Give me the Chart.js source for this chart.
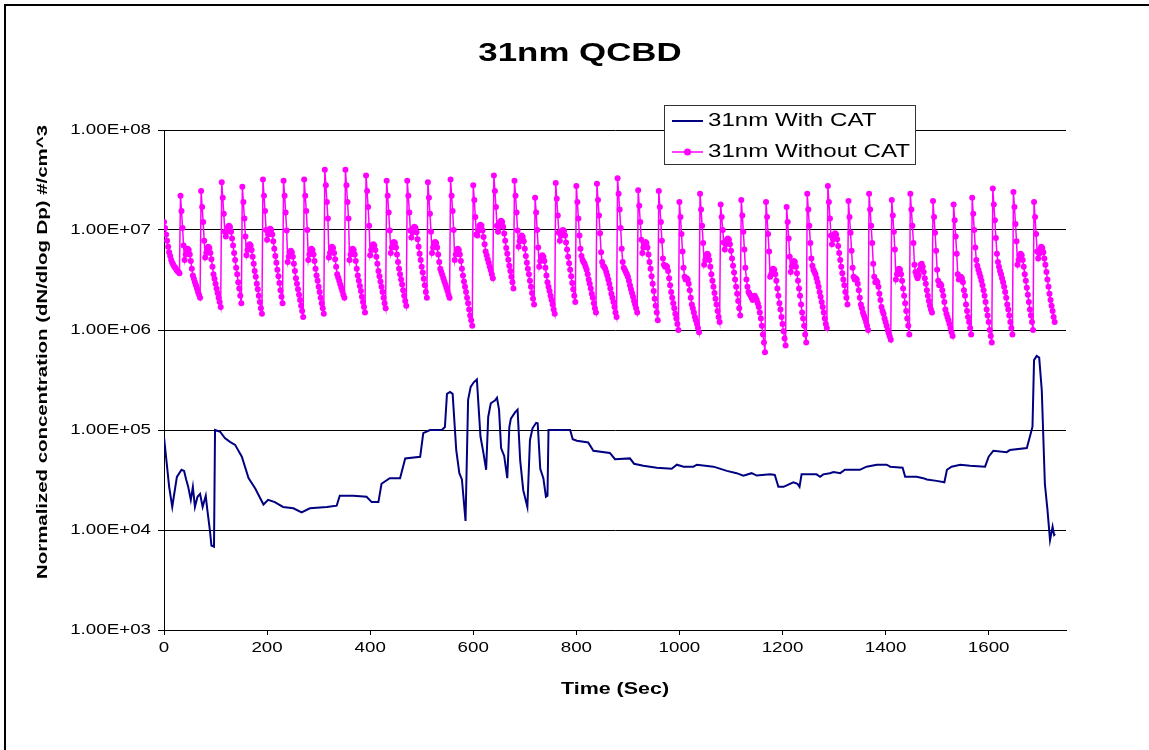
<!DOCTYPE html>
<html><head><meta charset="utf-8">
<script src="https://cdn.jsdelivr.net/npm/chart.js@4/dist/chart.umd.min.js"></script>
<style>html,body{margin:0;padding:0;background:#fff;}#wrap{width:1149px;height:750px;}</style>
</head><body><div id="wrap"><canvas id="c" width="1149" height="750"></canvas></div>
<script>
const chartTitle = '31nm QCBD';
const xTitle = 'Time (Sec)';
const yTitle = 'Normalized concentration (dN/dlog Dp) #/cm^3';
const seriesNames = ['31nm With CAT', '31nm Without CAT'];
const xTicks = [0, 200, 400, 600, 800, 1000, 1200, 1400, 1600];
const yTicks = [1e3, 1e4, 1e5, 1e6, 1e7, 1e8];
const yTickLabels = ['1.00E+03', '1.00E+04', '1.00E+05', '1.00E+06', '1.00E+07', '1.00E+08'];

// 31nm With CAT (time in s, concentration)
const withCatTime = [0,10,16,19,25,34,39,43,47,52,56,60,65,70,75,81,84,89,92,97,99,109,118,128,138,151,164,177,193,202,215,231,251,267,283,316,335,341,367,393,403,416,422,438,458,468,497,503,516,539,545,549,555,560,567,573,578,582,585,590,595,601,607,614,620,625,629,634,642,646,650,654,660,666,670,673,681,686,691,697,705,710,715,722,725,730,736,741,744,746,788,793,801,823,833,865,875,904,912,930,956,985,995,1008,1027,1034,1066,1092,1111,1124,1140,1150,1176,1185,1192,1202,1221,1229,1233,1237,1266,1273,1279,1292,1299,1312,1321,1350,1363,1383,1402,1409,1433,1438,1460,1473,1480,1499,1514,1519,1528,1545,1564,1593,1600,1609,1635,1641,1674,1680,1685,1688,1693,1698,1703,1709,1714,1719,1724,1727,1729];
const withCatValue = [8.5e4,2.7e4,1.7e4,2.15e4,3.4e4,4.0e4,3.9e4,3.2e4,2.7e4,2.0e4,2.7e4,1.7e4,2.15e4,2.3e4,1.7e4,2.2e4,1.6e4,1.0e4,7.0e3,6.8e3,1.0e5,9.6e4,8.3e4,7.6e4,7.1e4,5.4e4,3.3e4,2.6e4,1.8e4,2.0e4,1.9e4,1.7e4,1.65e4,1.5e4,1.65e4,1.7e4,1.75e4,2.2e4,2.2e4,2.15e4,1.9e4,1.9e4,2.9e4,3.3e4,3.3e4,5.2e4,5.4e4,9.3e4,1.0e5,1.0e5,1.07e5,2.3e5,2.4e5,2.3e5,6.3e4,3.7e4,3.2e4,1.85e4,1.23e4,2.0e5,2.7e5,3.0e5,3.2e5,8.6e4,5.8e4,4.0e4,1.35e5,1.85e5,1.97e5,2.1e5,1.6e5,6.6e4,5.5e4,3.3e4,1.07e5,1.3e5,1.5e5,1.6e5,5.0e4,2.5e4,1.7e4,7.9e4,1.04e5,1.18e5,1.17e5,4.1e4,3.3e4,2.15e4,2.2e4,1.0e5,1.0e5,8.1e4,7.8e4,7.5e4,6.2e4,5.9e4,5.1e4,5.2e4,4.6e4,4.4e4,4.2e4,4.1e4,4.5e4,4.3e4,4.3e4,4.5e4,4.3e4,3.9e4,3.7e4,3.5e4,3.7e4,3.5e4,3.6e4,3.55e4,2.7e4,2.7e4,3.0e4,2.9e4,2.7e4,3.6e4,3.6e4,3.4e4,3.6e4,3.7e4,3.8e4,3.7e4,4.0e4,4.0e4,4.3e4,4.5e4,4.5e4,4.3e4,4.2e4,3.4e4,3.4e4,3.3e4,3.2e4,3.1e4,3.0e4,4.0e4,4.3e4,4.5e4,4.4e4,4.3e4,5.4e4,6.2e4,6.0e4,6.3e4,6.6e4,8.6e4,1.08e5,5.0e5,5.5e5,5.3e5,2.5e5,2.9e4,1.6e4,7.9e3,1.08e4,8.9e3,9.1e3];

// 31nm Without CAT: one reading every 2 s starting at 0 s
const withoutCatStart = 0;
const withoutCatStep = 2;
const withoutCatValue = [
1.2e7,1.05e7,9.0e6,7.8e6,6.8e6,6.0e6,5.5e6,5.0e6,4.7e6,4.5e6,4.3e6,4.2e6,4.0e6,3.9e6,3.8e6,3.7e6,
2.2e7,1.55e7,1.05e7,7.0e6,5.0e6,5.7e6,6.3e6,6.5e6,6.3e6,5.7e6,4.9e6,4.1e6,3.5e6,3.25e6,3.0e6,2.8e6,2.6e6,2.4e6,2.25e6,2.1e6,
2.45e7,1.7e7,1.2e7,7.8e6,5.3e6,5.9e6,6.6e6,6.8e6,6.6e6,5.9e6,5.1e6,4.3e6,3.6e6,3.25e6,2.9e6,2.6e6,2.35e6,2.1e6,1.9e6,1.7e6,
3.0e7,2.1e7,1.45e7,9.6e6,8.6e6,9.6e6,1.07e7,1.1e7,1.07e7,9.6e6,8.2e6,7.0e6,5.9e6,5.0e6,4.2e6,3.6e6,3.0e6,2.6e6,2.2e6,1.85e6,
2.7e7,1.9e7,1.3e7,8.6e6,5.6e6,6.3e6,7.0e6,7.2e6,7.0e6,6.3e6,5.4e6,4.6e6,3.9e6,3.4e6,2.9e6,2.55e6,2.2e6,1.9e6,1.65e6,1.45e6,
3.2e7,2.2e7,1.55e7,1.0e7,8.0e6,9.0e6,1.0e7,1.03e7,1.0e7,9.0e6,7.7e6,6.5e6,5.5e6,4.7e6,4.0e6,3.45e6,2.95e6,2.5e6,2.15e6,1.85e6,
3.1e7,2.2e7,1.5e7,9.9e6,4.8e6,5.4e6,6.0e6,6.2e6,6.0e6,5.4e6,4.6e6,3.9e6,3.3e6,2.9e6,2.55e6,2.25e6,2.0e6,1.75e6,1.55e6,1.35e6,
3.2e7,2.2e7,1.55e7,1.0e7,5.0e6,5.7e6,6.3e6,6.5e6,6.3e6,5.7e6,4.9e6,4.1e6,3.5e6,3.1e6,2.7e6,2.4e6,2.1e6,1.85e6,1.65e6,1.45e6,
4.0e7,2.8e7,1.9e7,1.3e7,5.3e6,5.9e6,6.6e6,6.8e6,6.6e6,5.9e6,5.1e6,4.3e6,3.6e6,3.35e6,3.1e6,2.85e6,2.65e6,2.45e6,2.25e6,2.1e6,
4.0e7,2.8e7,1.9e7,1.3e7,5.0e6,5.7e6,6.3e6,6.5e6,6.3e6,5.7e6,4.9e6,4.1e6,3.5e6,3.1e6,2.75e6,2.45e6,2.15e6,1.9e6,1.7e6,1.5e6,
3.5e7,2.45e7,1.7e7,1.1e7,5.6e6,6.3e6,7.0e6,7.2e6,7.0e6,6.3e6,5.4e6,4.6e6,3.9e6,3.45e6,3.05e6,2.7e6,2.4e6,2.1e6,1.85e6,1.65e6,
3.1e7,2.2e7,1.5e7,9.9e6,5.9e6,6.7e6,7.4e6,7.6e6,7.4e6,6.7e6,5.7e6,4.8e6,4.1e6,3.6e6,3.2e6,2.85e6,2.5e6,2.2e6,1.95e6,1.75e6,
3.1e7,2.2e7,1.5e7,9.9e6,8.4e6,9.5e6,1.05e7,1.08e7,1.05e7,9.5e6,8.1e6,6.8e6,5.8e6,5.0e6,4.3e6,3.75e6,3.25e6,2.8e6,2.4e6,2.1e6,
3.0e7,2.1e7,1.45e7,9.6e6,5.9e6,6.7e6,7.4e6,7.6e6,7.4e6,6.7e6,5.7e6,4.8e6,4.1e6,3.8e6,3.55e6,3.3e6,3.05e6,2.85e6,2.65e6,2.45e6,2.25e6,2.1e6,
3.2e7,2.2e7,1.55e7,1.0e7,5.0e6,5.7e6,6.3e6,6.5e6,6.3e6,5.7e6,4.9e6,4.1e6,3.5e6,3.05e6,2.7e6,2.4e6,2.1e6,1.85e6,1.6e6,1.4e6,1.25e6,1.1e6,
2.8e7,2.0e7,1.35e7,9.0e6,8.8e6,9.9e6,1.1e7,1.13e7,1.1e7,9.9e6,8.5e6,7.2e6,6.1e6,5.6e6,5.1e6,4.7e6,4.3e6,3.95e6,3.6e6,3.3e6,
3.5e7,2.45e7,1.7e7,1.1e7,9.6e6,1.08e7,1.2e7,1.24e7,1.2e7,1.08e7,9.2e6,7.8e6,6.6e6,5.8e6,5.05e6,4.4e6,3.9e6,3.4e6,3.0e6,2.6e6,
3.1e7,2.2e7,1.5e7,9.9e6,6.8e6,7.7e6,8.5e6,8.8e6,8.5e6,7.7e6,6.5e6,5.5e6,4.7e6,4.1e6,3.6e6,3.1e6,2.7e6,2.35e6,2.05e6,1.8e6,
2.1e7,1.5e7,1.0e7,6.7e6,4.3e6,4.9e6,5.4e6,5.6e6,5.4e6,4.9e6,4.2e6,3.5e6,3.0e6,2.7e6,2.45e6,2.2e6,2.0e6,1.8e6,1.6e6,1.45e6,
2.95e7,2.05e7,1.4e7,9.4e6,7.8e6,8.8e6,9.8e6,1.0e7,9.8e6,8.8e6,7.5e6,6.4e6,5.4e6,4.65e6,4.0e6,3.45e6,2.95e6,2.55e6,2.2e6,1.9e6,
2.75e7,1.9e7,1.3e7,8.8e6,6.5e6,5.5e6,5.0e6,4.8e6,4.6e6,4.3e6,4.0e6,3.6e6,3.2e6,2.9e6,2.6e6,2.3e6,2.1e6,1.85e6,1.65e6,1.5e6,
2.9e7,2.0e7,1.4e7,9.3e6,6.0e6,4.8e6,4.4e6,4.3e6,4.1e6,3.8e6,3.5e6,3.2e6,2.9e6,2.6e6,2.3e6,2.1e6,1.9e6,1.7e6,1.5e6,1.35e6,
3.3e7,2.3e7,1.6e7,1.05e7,6.5e6,4.8e6,4.2e6,4.0e6,3.8e6,3.6e6,3.4e6,3.1e6,2.8e6,2.55e6,2.35e6,2.15e6,1.95e6,1.8e6,1.65e6,1.5e6,
2.5e7,1.75e7,1.2e7,8.0e6,5.9e6,6.7e6,7.4e6,7.6e6,7.4e6,6.7e6,5.7e6,4.8e6,4.1e6,3.45e6,2.9e6,2.45e6,2.05e6,1.75e6,1.5e6,1.25e6,
2.45e7,1.7e7,1.2e7,7.8e6,5.2e6,4.5e6,4.3e6,4.4e6,4.3e6,3.9e6,3.3e6,2.8e6,2.4e6,2.1e6,1.85e6,1.65e6,1.45e6,1.3e6,1.15e6,1.0e6,
1.9e7,1.35e7,9.1e6,6.1e6,4.2e6,3.4e6,3.2e6,3.3e6,3.2e6,2.9e6,2.5e6,2.1e6,1.8e6,1.65e6,1.5e6,1.35e6,1.25e6,1.15e6,1.05e6,9.5e5,
2.3e7,1.6e7,1.1e7,7.4e6,4.5e6,5.0e6,5.6e6,5.8e6,5.6e6,5.0e6,4.3e6,3.6e6,3.1e6,2.7e6,2.35e6,2.05e6,1.8e6,1.55e6,1.35e6,1.2e6,
1.8e7,1.35e7,1.0e7,7.5e6,6.4e6,7.2e6,8.0e6,8.2e6,8.0e6,7.2e6,6.2e6,5.2e6,4.4e6,3.75e6,3.2e6,2.7e6,2.3e6,1.95e6,1.65e6,1.4e6,
2.0e7,1.4e7,9.6e6,6.4e6,4.2e6,3.2e6,2.7e6,2.4e6,2.3e6,2.2e6,2.1e6,2.0e6,2.1e6,2.2e6,2.1e6,2.0e6,1.85e6,1.7e6,1.5e6,1.3e6,1.1e6,9.0e5,7.5e5,6.0e5,
1.9e7,1.35e7,9.1e6,6.1e6,3.4e6,3.6e6,4.0e6,4.1e6,4.0e6,3.6e6,3.1e6,2.6e6,2.2e6,1.85e6,1.6e6,1.35e6,1.15e6,9.7e5,8.2e5,7.0e5,
1.7e7,1.2e7,8.2e6,5.4e6,3.8e6,4.3e6,4.8e6,4.9e6,4.8e6,4.3e6,3.7e6,3.1e6,2.6e6,2.2e6,1.8e6,1.5e6,1.3e6,1.1e6,9.0e5,7.5e5,
2.3e7,1.6e7,1.1e7,7.4e6,5.2e6,4.4e6,4.0e6,3.8e6,3.6e6,3.3e6,3.0e6,2.7e6,2.4e6,2.15e6,1.9e6,1.7e6,1.5e6,1.3e6,1.15e6,1.05e6,
2.75e7,1.9e7,1.3e7,8.8e6,7.2e6,8.1e6,9.0e6,9.3e6,9.0e6,8.1e6,6.9e6,5.9e6,5.0e6,4.3e6,3.7e6,3.2e6,2.8e6,2.4e6,2.1e6,1.8e6,
1.95e7,1.35e7,9.4e6,6.2e6,4.2e6,3.4e6,3.2e6,3.3e6,3.2e6,2.9e6,2.5e6,2.1e6,1.8e6,1.65e6,1.5e6,1.4e6,1.3e6,1.2e6,1.1e6,1.0e6,
2.3e7,1.6e7,1.1e7,7.4e6,4.6e6,3.4e6,3.0e6,3.1e6,3.0e6,2.7e6,2.3e6,2.0e6,1.7e6,1.55e6,1.45e6,1.3e6,1.2e6,1.1e6,1.0e6,9.3e5,8.6e5,8.0e5,
2.0e7,1.4e7,9.6e6,6.4e6,3.2e6,3.6e6,4.0e6,4.1e6,4.0e6,3.6e6,3.1e6,2.6e6,2.2e6,1.85e6,1.55e6,1.3e6,1.1e6,9.0e5,
2.3e7,1.6e7,1.1e7,7.4e6,4.5e6,3.8e6,3.5e6,3.3e6,3.5e6,4.0e6,4.5e6,4.6e6,4.3e6,3.8e6,3.3e6,2.9e6,2.5e6,2.2e6,1.95e6,1.75e6,1.6e6,1.5e6,
1.95e7,1.35e7,9.4e6,6.2e6,4.0e6,3.1e6,2.8e6,2.9e6,2.8e6,2.5e6,2.2e6,1.9e6,1.6e6,1.45e6,1.35e6,1.25e6,1.15e6,1.05e6,9.5e5,8.7e5,
1.8e7,1.25e7,8.6e6,5.8e6,3.6e6,3.2e6,3.3e6,3.4e6,3.3e6,3.0e6,2.5e6,2.2e6,1.8e6,1.55e6,1.35e6,1.2e6,1.05e6,9.0e5,
2.1e7,1.45e7,1.0e7,6.7e6,5.0e6,4.4e6,4.0e6,3.7e6,3.4e6,3.1e6,2.8e6,2.5e6,2.2e6,1.9e6,1.6e6,1.4e6,1.2e6,1.0e6,8.7e5,7.5e5,
2.6e7,1.8e7,1.25e7,8.3e6,5.8e6,4.8e6,4.3e6,3.9e6,3.6e6,3.3e6,3.0e6,2.7e6,2.4e6,2.1e6,1.8e6,1.6e6,1.4e6,1.2e6,1.05e6,9.0e5,
2.4e7,1.7e7,1.15e7,7.7e6,4.5e6,5.0e6,5.6e6,5.8e6,5.6e6,5.0e6,4.3e6,3.6e6,3.1e6,2.65e6,2.25e6,1.9e6,1.6e6,1.4e6,1.2e6,1.0e6,
1.9e7,1.35e7,9.1e6,6.1e6,5.2e6,5.8e6,6.5e6,6.8e6,6.6e6,6.0e6,5.2e6,4.5e6,3.8e6,3.2e6,2.7e6,2.3e6,2.0e6,1.75e6,1.55e6,1.35e6,1.2e6
];

const FONT = '"Liberation Sans", Arial, sans-serif';
const STRETCH = 1.34;
const navy = '#000080';
const magenta = '#FF00FF';

function stretchedText(ctx, text, x, y, font, align, sx, rotate) {
  ctx.save();
  ctx.translate(x, y);
  if (rotate) ctx.rotate(-Math.PI / 2);
  ctx.scale(sx, 1);
  ctx.font = font;
  ctx.fillStyle = '#000';
  ctx.textAlign = align;
  ctx.textBaseline = 'middle';
  ctx.fillText(text, 0, 0);
  ctx.restore();
}

const textPlugin = {
  id: 'texts',
  beforeDraw(chart) {
    const ctx = chart.ctx;
    ctx.save();
    ctx.fillStyle = '#fff';
    ctx.fillRect(0, 0, chart.width, chart.height);
    ctx.fillStyle = '#000';
    ctx.fillRect(4, 4, 2, chart.height);
    ctx.fillRect(4, 4, chart.width, 2);
    ctx.restore();
  },
  afterDraw(chart) {
    const ctx = chart.ctx;
    const xs = chart.scales.x, ys = chart.scales.y;
    const area = chart.chartArea;
    stretchedText(ctx, chartTitle, 580, 54, 'bold 26px ' + FONT, 'center', STRETCH, false);
    yTicks.forEach((v, i) => {
      stretchedText(ctx, yTickLabels[i], 151, ys.getPixelForValue(v), '14px ' + FONT, 'right', STRETCH, false);
    });
    xTicks.forEach(v => {
      stretchedText(ctx, String(v), xs.getPixelForValue(v), 648, '14px ' + FONT, 'center', STRETCH, false);
    });
    stretchedText(ctx, xTitle, (area.left + area.right) / 2, 690, 'bold 16px ' + FONT, 'center', STRETCH, false);
    stretchedText(ctx, yTitle, 43, 352, 'bold 15px ' + FONT, 'center', 1.36, true);
    // legend
    ctx.save();
    ctx.fillStyle = '#fff';
    ctx.fillRect(664, 105, 252, 60);
    ctx.strokeStyle = '#333';
    ctx.lineWidth = 1;
    ctx.strokeRect(664.5, 105.5, 251, 59);
    ctx.strokeStyle = navy; ctx.lineWidth = 2;
    ctx.beginPath(); ctx.moveTo(672, 121); ctx.lineTo(703, 121); ctx.stroke();
    ctx.strokeStyle = magenta; ctx.lineWidth = 1.5;
    ctx.beginPath(); ctx.moveTo(672, 152); ctx.lineTo(703, 152); ctx.stroke();
    ctx.fillStyle = magenta;
    ctx.beginPath(); ctx.arc(687.5, 152, 3.5, 0, Math.PI * 2); ctx.fill();
    ctx.restore();
    stretchedText(ctx, seriesNames[0], 708, 121, '18px ' + FONT, 'left', STRETCH, false);
    stretchedText(ctx, seriesNames[1], 708, 152, '18px ' + FONT, 'left', STRETCH, false);
  }
};

new Chart(document.getElementById('c').getContext('2d'), {
  type: 'line',
  data: {
    datasets: [
      {
        label: seriesNames[0],
        data: withCatTime.map((t, i) => ({ x: t, y: withCatValue[i] })),
        borderColor: navy, borderWidth: 2, pointRadius: 0, tension: 0
      },
      {
        label: seriesNames[1],
        data: withoutCatValue.map((v, i) => ({ x: withoutCatStart + i * withoutCatStep, y: v })),
        borderColor: magenta, backgroundColor: magenta, borderWidth: 1.5,
        pointRadius: 3, pointBorderWidth: 0, pointBackgroundColor: magenta, tension: 0
      }
    ]
  },
  options: {
    responsive: false, animation: false, devicePixelRatio: 1,
    layout: { padding: { left: 0, top: 130, right: 83, bottom: 0 } },
    plugins: { legend: { display: false }, title: { display: false }, tooltip: { enabled: false } },
    scales: {
      x: {
        type: 'linear', min: 0, max: 1750,
        afterBuildTicks: s => { s.ticks = xTicks.map(v => ({ value: v })); },
        afterFit: s => { s.height = 120; },
        grid: { drawOnChartArea: false, drawTicks: true, tickLength: 5, color: '#000' },
        border: { color: '#000', width: 1 },
        ticks: { display: false }
      },
      y: {
        type: 'logarithmic', min: 1e3, max: 1e8,
        afterBuildTicks: s => { s.ticks = yTicks.map(v => ({ value: v })); },
        afterFit: s => { s.width = 164; },
        grid: { color: '#000', lineWidth: 1, drawTicks: true, tickLength: 6 },
        border: { color: '#000', width: 1 },
        ticks: { display: false }
      }
    }
  },
  plugins: [textPlugin]
});
</script>
</body></html>
